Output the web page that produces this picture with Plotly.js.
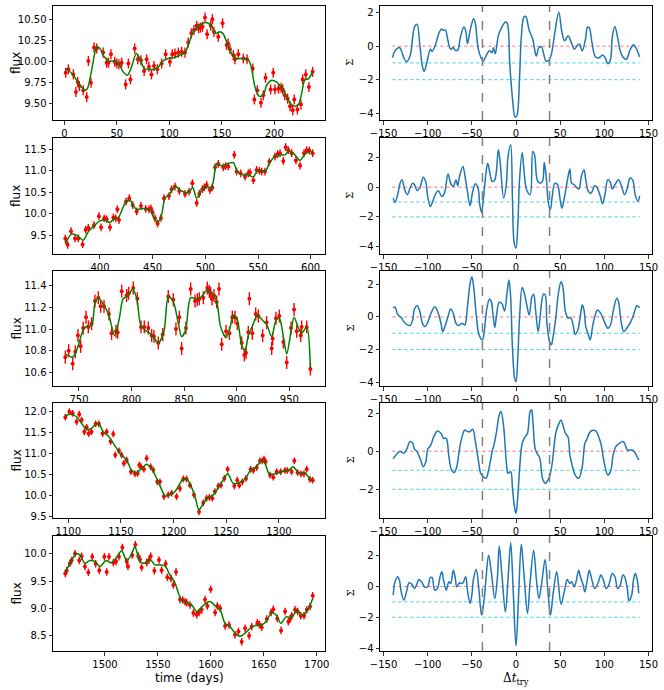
<!DOCTYPE html>
<html>
<head>
<meta charset="utf-8">
<script src="https://cdn.plot.ly/plotly-3.0.1.min.js"></script>
<style>
  html, body { margin: 0; padding: 0; background: #fff; }
  #chart { width: 664px; height: 690px; }
</style>
</head>
<body>
<div id="chart"></div>
<script>
// light curves: time (days), flux, flux error, and the smooth model
const t1 = [1.3,3.8,8.6,11,12.7,14.3,18,21.3,22.9,25.4,28.3,30.8,37,40.3,42,44.4,48,50,52,54.6,58.4,61,63,67,70,73,76,78.4,80.6,83,85.4,88.6,92.7,96.5,100.6,102.8,105.4,108.6,111.7,114.9,118,121,123.5,126,128,129.8,131.7,134,136,139.4,141,142.5,146.6,150.7,154.6,156,157.8,161,162.5,165.7,170.5,174,179.4,181,183.8,187.3,189.5,191.7,196.5,199,200.6,204,206.5,208,210,212.7,215,217.5,219,222,225.4,227,230,233,236.5];
const f1 = [9.87,9.91,9.85,9.64,9.76,9.71,9.66,9.58,10.01,9.75,10.17,10.16,10.11,9.99,9.99,10.09,10.0,9.98,9.97,9.99,9.73,9.98,9.79,10.16,10.03,10.02,9.89,10.03,9.94,9.85,9.95,9.91,9.98,10.09,10.0,10.09,10.10,10.11,10.12,10.11,10.23,10.34,10.38,10.43,10.40,10.41,10.42,10.53,10.33,10.43,10.51,10.36,10.30,10.46,10.20,10.22,10.15,10.08,10.03,10.09,10.04,10.03,9.92,9.55,9.66,9.51,9.60,9.81,9.67,9.87,9.67,9.68,9.69,9.67,9.60,9.56,9.47,9.42,9.55,9.43,9.49,9.79,9.85,9.70,9.88];
const e1 = 0.06;
const mt1 = [1.3,8,15,20,22,26,31,34,37,42,47,51.5,56,60,64,68.5,72,76,80,85,89.5,94,99,104,110,115,118,123,129,135.5,140,144,148,151,154.6,159.3,164,169,175,178,181.6,185.7,189.5,192.7,197.5,202,207,211,215.5,219.7,223,226,229,232.7,236.5];
const mf1 = [9.92,9.85,9.72,9.66,9.68,9.90,10.18,10.16,10.08,10.01,10.01,9.98,9.88,9.84,9.94,10.10,10.04,9.92,9.91,9.91,9.94,10.01,10.04,10.05,10.08,10.11,10.20,10.36,10.44,10.47,10.43,10.34,10.36,10.34,10.24,10.10,10.04,10.04,10.03,9.94,9.70,9.59,9.60,9.72,9.78,9.76,9.69,9.60,9.50,9.47,9.49,9.62,9.78,9.80,9.88];

const t2 = [367.1,369.3,372.5,376.3,379.4,383.5,386.4,388.9,394.3,399,401,404,406.3,409.5,412.7,414.9,416.5,418,424.7,427.8,431,434.8,438.9,443.4,446.5,448.4,450,452.2,454.7,457.9,460.8,465.5,468,471.2,475.3,480.7,484.5,487.7,491.8,494.3,497.2,499,501.3,504.4,506.6,509.2,512.3,517.1,519.3,521.8,527.5,529.7,533.5,537.7,540.8,542.4,545.6,548.7,551.3,553.5,556.6,560.8,566.1,568.7,570.9,574,576.3,578.8,582,586,589.9,593.7,596.2,598.7,601.9];
const f2 = [9.42,9.27,9.59,9.42,9.42,9.28,9.62,9.67,9.73,9.94,9.68,9.89,9.87,9.68,9.91,9.89,10.10,9.85,10.28,10.36,10.20,10.05,10.18,10.11,10.10,10.12,10.02,9.89,9.77,9.90,10.36,10.41,10.57,10.63,10.53,10.46,10.51,10.71,10.25,10.46,10.57,10.61,10.67,10.55,10.61,11.08,11.16,11.08,11.11,11.10,11.37,10.98,10.94,10.86,10.94,10.96,10.78,11.02,11.00,10.98,10.98,11.21,11.33,11.39,11.41,11.23,11.55,11.48,11.41,11.24,11.12,11.41,11.48,11.47,11.41];
const e2 = 0.09;
const mt2 = [367,373,379,384,389,395,400,405,409.5,412.7,417.4,424.7,428.5,431.6,434.8,441,447.5,452,455.4,458.5,461.7,466.5,471.2,476,480.7,484.8,488,491.8,496.5,501.3,505,507.6,510.8,515.5,521.8,526.6,530.4,536,540.8,545.6,550.3,556.6,560.8,566.1,570.9,575.6,578.8,583.5,589.9,594.6,599.4,601.9];
const mf2 = [9.29,9.52,9.48,9.38,9.58,9.73,9.83,9.85,9.79,9.87,9.91,10.28,10.32,10.18,10.10,10.12,10.08,9.86,9.81,9.97,10.36,10.47,10.64,10.55,10.49,10.51,10.61,10.36,10.55,10.64,10.57,10.75,11.17,11.11,11.17,11.19,10.98,10.90,10.90,10.86,11.02,10.98,11.17,11.34,11.37,11.37,11.45,11.41,11.24,11.39,11.45,11.42];

const t3 = [737,740.2,744,746.5,749,751.6,754,756.7,758.9,762,765.2,768.4,770.6,773.8,778.5,781,785.2,786.8,790.6,795.3,797.2,801.6,805.5,809,812.1,815.9,819.1,821.3,825.4,829.6,834.9,839.7,842.2,845.4,847.6,851.7,856.2,860.3,862.5,864.4,868.2,872,873.9,875.2,876.5,878.4,880.9,883.1,885.7,889.8,893,895.8,898.3,900.6,904.7,907.2,908.8,911,912,914.8,918,920.5,924.6,928.4,933.2,934.1,937.3,940.5,944.3,947.5,951.6,954.5,957,960.8,961.7,966.5,970];
const f3 = [10.74,10.80,10.68,10.79,10.94,10.84,11.01,11.11,11.02,11.05,11.26,11.29,11.21,11.21,11.14,10.96,10.98,10.97,11.35,11.31,11.33,11.38,11.28,11.02,11.02,11.01,10.94,10.93,10.87,10.95,11.30,11.27,11.00,11.11,10.82,11.01,11.37,11.26,11.27,11.28,11.29,11.38,11.35,11.33,11.28,11.31,11.25,11.37,10.86,10.98,10.96,11.11,11.11,11.05,10.87,10.76,10.78,10.97,11.28,10.96,11.14,11.12,10.94,11.06,10.82,10.91,11.10,11.12,10.88,10.69,11.01,11.18,10.98,10.94,11.02,11.02,10.63];
const e3 = 0.06;
const mt3 = [737,744,748.4,754,758,762,765.2,768.4,773,778,784,788.4,792,797,801,805,808.6,812.8,817.5,821.3,825.4,830.8,835,839.7,844.5,847.6,851.4,856.2,862,866.6,872,877.7,880.9,884.7,889.8,893,896.8,900.6,904.7,907.8,911,915.8,919.6,923.7,928.4,933.2,937.3,940.5,944.3,947.5,951.6,954.5,958.6,961.7,966.5,970];
const mf3 = [10.77,10.74,10.82,10.99,11.03,11.03,11.24,11.29,11.23,11.14,10.94,11.10,11.28,11.31,11.37,11.28,11.04,10.99,10.96,10.92,10.87,10.98,11.30,11.25,11.05,10.93,10.99,11.29,11.28,11.30,11.36,11.31,11.26,11.02,10.92,10.99,11.13,11.08,10.85,10.80,10.94,11.05,11.13,11.09,11.04,10.93,11.08,11.10,10.93,10.77,10.98,11.11,11.01,10.96,11.02,10.64];

const t4 = [1097.2,1101,1104.1,1107.9,1110.4,1112.7,1115.2,1117.4,1119.3,1122,1126,1129,1132.6,1136.4,1140.2,1142.7,1144.6,1148.1,1150.6,1152.8,1155.4,1159.5,1163.3,1165.8,1167.4,1169,1171.8,1174.4,1178.2,1180.7,1184.5,1187,1190.8,1194.9,1198.1,1202.8,1206,1209.2,1212.3,1215.5,1219.3,1224.1,1228.2,1231.3,1233.9,1236.7,1239.2,1242.4,1244.9,1248.1,1251.3,1257.6,1260.4,1262.3,1265.2,1268.7,1273.1,1275.6,1278.8,1282,1284.2,1285.8,1287.3,1291.5,1294.6,1297.8,1301.6,1305.7,1307.9,1312,1314.6,1317.7,1320.9,1323.7,1326.3,1329.4,1332];
const f4 = [11.87,12.00,11.96,11.76,11.94,11.80,11.52,11.63,11.48,11.52,11.71,11.71,11.48,11.52,11.29,11.47,10.97,11.07,10.97,10.77,10.85,10.57,10.52,10.53,10.73,10.69,10.63,10.89,10.69,10.61,10.33,10.33,9.98,10.02,10.06,9.98,10.17,10.40,10.40,10.25,10.02,9.62,9.83,9.94,9.96,9.94,10.10,10.23,10.25,10.41,10.63,10.23,10.37,10.25,10.33,10.41,10.63,10.60,10.67,10.83,10.83,10.87,10.81,10.49,10.44,10.57,10.57,10.60,10.60,10.57,10.83,10.55,10.52,10.52,10.63,10.39,10.37];
const e4 = 0.08;
const mt4 = [1097,1101.6,1108,1112.7,1117.4,1122,1126.9,1130,1133.2,1138,1142.7,1149,1155.4,1160,1164.9,1169.6,1174.4,1179,1183.9,1188.6,1191.8,1196.5,1201.3,1206,1209.2,1212.3,1215.5,1220.3,1224.1,1228.2,1232.9,1237.7,1242.4,1247.1,1251.3,1256.6,1262.3,1267.7,1273.1,1278.8,1283.5,1286.7,1290.8,1296.2,1302.5,1308.9,1313.6,1318.4,1324.7,1329.4,1332];
const mf4 = [11.90,11.94,11.88,11.72,11.58,11.60,11.72,11.68,11.52,11.42,11.25,11.01,10.85,10.61,10.55,10.65,10.75,10.65,10.41,10.15,9.99,10.02,10.10,10.29,10.41,10.40,10.29,9.98,9.66,9.82,9.96,10.02,10.20,10.37,10.53,10.29,10.31,10.39,10.61,10.69,10.85,10.77,10.52,10.52,10.57,10.60,10.69,10.55,10.55,10.39,10.37];

const t5 = [1462.5,1463.8,1466.9,1468.5,1471.7,1475.7,1477.9,1481.1,1484.3,1488,1491.2,1494.6,1499.4,1501.6,1503.8,1507.9,1510.4,1513.2,1516.4,1520.5,1521.7,1525.8,1528.7,1531.5,1533.1,1534.6,1539.4,1541.6,1543.1,1546.6,1551,1553.5,1557.3,1558.9,1562.4,1564.6,1567.1,1570.9,1573.4,1575.6,1577.2,1580.3,1583.5,1586.6,1588.8,1591.3,1594.5,1596.7,1599.8,1604,1606.1,1608.7,1613.4,1617.2,1622.8,1626,1629.1,1632.3,1636.1,1638.6,1643.9,1645.8,1648,1652.8,1656.9,1659,1662.8,1666.3,1670.1,1673.2,1674.8,1676.4,1679.5,1682,1684.9,1688,1690.6,1693.7,1696.2];
const f5 = [9.64,9.69,9.83,9.88,10.01,9.88,9.96,9.77,9.66,9.95,9.82,9.70,9.95,9.67,9.95,9.84,9.86,9.95,10.12,9.86,9.77,9.98,10.17,9.96,9.90,9.75,9.84,9.89,9.96,9.69,9.89,9.70,9.82,9.57,9.55,9.43,9.67,9.16,9.15,9.12,9.10,9.06,8.91,8.88,8.92,8.97,9.16,9.04,9.35,8.92,9.04,9.00,8.67,8.69,8.51,8.57,8.38,8.63,8.49,8.66,8.73,8.70,8.65,8.80,8.92,8.98,8.81,8.59,8.94,8.75,8.80,8.86,8.97,8.94,8.86,8.86,8.97,9.03,9.23];
const e5 = 0.07;
const mt5 = [1462.5,1467,1472.6,1476.4,1481,1485.8,1490.6,1495.3,1501,1505.7,1511,1515.7,1520.5,1525.2,1528.3,1533,1537.8,1542.5,1547.2,1552,1556.7,1561.4,1566.1,1569.3,1572.4,1577.2,1581.9,1586.6,1591.3,1596,1599.8,1604,1608.7,1613.4,1618.1,1622.8,1627.6,1632.3,1637,1643.3,1648,1652.8,1657.5,1662.2,1666,1671,1676.4,1681.1,1685.8,1690.6,1696.2];
const mf5 = [9.66,9.83,10.0,9.98,9.83,9.88,9.86,9.77,9.88,9.84,9.94,10.06,9.88,10.0,10.14,9.86,9.83,9.90,9.80,9.80,9.78,9.61,9.47,9.28,9.15,9.10,9.06,8.94,9.02,9.10,9.12,9.04,8.97,8.72,8.66,8.54,8.48,8.54,8.63,8.69,8.69,8.77,8.92,8.86,8.72,8.84,8.83,8.96,8.88,8.94,9.18];

// Sigma vs trial lag
const lag1 = [-140,-137,-132,-130,-127,-124,-120,-117,-115,-112,-109,-106,-104,-101,-97,-95,-91,-87,-84,-82,-80,-77,-74,-71,-69,-66,-63,-59,-57,-55,-52,-48,-46,-43,-40,-37,-34,-30,-27,-25.5,-23.5,-20,-17,-12,-10,-7,-4,-1,1,4,6,9,11,15,19,21,23,26,29,31,34,37,40,44,48.5,52,55,59,63,66,70,72,75,79,81,83,86,90,94,98,101,104,107,109,112,115,118,121,125,129,133,136,140];
const sig1 = [-0.69,-0.28,-0.08,-0.24,-0.69,-0.93,-0.59,0.53,1.14,1.30,0.12,-1.20,-1.50,-0.99,-0.18,-0.32,0.12,0.83,1.03,0.93,0.97,0.32,-0.18,-0.08,-0.24,-0.24,0.53,1.14,0.93,0.16,0.93,1.64,1.34,-0.08,-0.65,-0.89,-0.59,-0.28,-0.39,-0.08,-0.45,0.63,1.03,1.44,1.38,-1.10,-3.12,-4.24,-4.14,-1.91,0.53,1.74,1.78,0.93,0.43,-0.18,-0.59,-0.08,-0.04,-0.39,-0.89,-0.85,-0.49,0.83,2.03,0.83,0.32,0.63,0.16,-0.18,0.08,0.12,-0.28,0.53,1.14,1.10,0.22,-0.65,-0.69,-0.53,-0.69,-1.05,-0.79,0.53,1.18,0.53,-0.28,-0.65,-0.79,-0.24,0.08,-0.12,-0.65];

const lag2 = [-139,-137,-134,-131,-129,-126,-123,-120,-117,-115,-112,-109,-105,-102,-100,-97,-95,-91,-88,-84,-81,-77,-74,-71,-68,-66,-64,-60,-58,-55,-52,-49,-46,-43,-41,-39,-37,-34,-32,-29,-27,-24,-20,-18,-14,-11,-9,-6,-4,-2,0,2,4,7,9,12,16,19,21,24,27,30,32,34,37,39,41,44,47,50,52,55,58,61,63,66,71,74,77,79,82,85,89,91,95,98,101,104,107,109,112,116,119,123,126,129,132,135,138,140];
const sig2 = [-0.74,-1.03,-0.51,0.31,0.49,-0.18,-0.51,-0.07,0.27,0.16,-0.22,-0.07,0.67,0.31,-0.63,-1.30,-1.07,-0.45,-0.25,-0.63,-0.40,0.89,0.27,0.04,0.49,0.09,0.72,1.39,0.83,-0.29,-1.25,-0.29,0.22,-0.07,-1.19,-1.70,-0.85,0.94,1.61,0.76,0.38,0.49,2.51,1.72,-0.74,0.16,2.06,2.84,-0.85,-3.76,-4.09,-2.64,0.49,2.33,1.16,-0.18,-0.51,2.39,2.17,0.49,0.27,0.38,1.66,0.83,-1.19,-1.48,-0.63,0.27,0.16,-0.85,-1.41,-0.63,0.38,1.21,0.27,0.16,-0.13,0.72,1.16,0.49,-0.29,-0.40,0.09,0.04,-0.51,-1.12,-0.40,0.49,0.31,-0.13,0.16,0.49,0.16,-0.51,-0.07,0.60,0.49,-0.51,-0.96,-0.58];

const lag3 = [-139,-137,-134,-130,-127,-123,-120,-117,-115,-112,-109,-106,-103,-100,-97,-92,-89,-85,-83,-80,-77,-74,-71,-68,-65,-61,-58,-55,-52,-50,-48,-45,-42,-38,-36,-33,-30,-28,-26,-24,-22,-19,-16,-13,-10,-8,-6,-4,-1.5,0,2,4,7,9,12,15,18,20,22,25,27,31,33,35,38,40,42,45,48,51,53,56,59,62,65,67,70,73,75,77,79,82,84,87,90,92,96,100,104,107,110,114,116,119,122,126,130,133,137,140];
const sig3 = [0.53,0.61,0.16,-0.04,-0.29,-0.49,-0.53,-0.18,0.49,0.69,0.37,-0.39,-0.59,-0.33,0.12,0.63,0.37,-0.39,-0.90,-0.49,0.02,0.49,0.22,-0.39,-0.53,-0.39,-0.49,0.63,2.06,2.47,1.86,0.12,-1.06,-1.41,-0.90,0.53,1.10,0.94,0.12,-0.65,0.12,0.90,0.82,0.37,1.55,2.27,1.14,-1.92,-3.76,-3.96,-2.53,-0.08,1.80,1.55,0.78,0.12,1.24,1.39,0.53,-0.90,-0.18,1.39,1.35,-0.39,-1.51,-1.71,-1.20,-0.08,1.45,2.16,1.86,0.33,-0.08,-0.04,-0.59,-1.06,-0.80,0.12,0.73,0.43,-0.59,-1.10,-1.41,-0.49,0.16,0.43,0.22,-0.29,-0.69,-0.49,0.33,1.14,0.94,-0.29,-0.90,-0.65,-0.29,0.12,0.69,0.57];

const lag4 = [-139,-136,-132,-130,-127,-124,-120,-117,-115,-112,-108,-105,-102,-100,-97,-93,-89,-85,-82,-79,-76,-73,-70,-67,-65,-62,-58,-55,-52,-49,-46,-43,-40,-38,-34,-31,-27,-25,-22,-19,-17,-14,-11,-9,-6,-4,-1.5,0,2,4,7,10,13,16,17.6,19,22,25,27,30,33,35,38,41,45,48,51,53,56,59,61,64,67,71,75,78,80,83,86,90,92,96,100,104,107,110,113,117,121,123,126,129,133,136,139];
const sig4 = [-0.40,-0.19,-0.02,-0.02,-0.11,0.07,0.51,0.42,0.11,-0.02,-0.46,-0.81,-0.54,0.11,0.28,0.77,1.07,0.95,0.68,0.68,-0.28,-0.98,-1.12,-0.81,-0.19,0.60,1.12,1.04,1.04,1.16,0.51,-0.37,-1.16,-1.30,-1.42,-0.98,-0.02,0.33,1.04,1.91,2.09,1.30,-0.54,-1.16,-1.07,-1.95,-3.00,-3.26,-2.39,-0.98,0.42,0.74,0.95,2.09,2.18,1.65,0.07,-0.19,-0.37,-1.42,-1.68,-1.60,-1.33,-0.63,0.95,1.39,1.65,1.39,0.95,0.74,-0.19,-0.81,-1.25,-1.42,-0.81,0.42,0.60,0.95,1.09,1.09,0.95,0.42,-0.63,-1.25,-1.07,-0.19,0.25,0.42,0.51,0.42,0.07,0.07,0.04,-0.19,-0.46];

const lag5 = [-139,-137,-134,-132,-130,-127,-124,-121,-118,-115,-112,-110,-107,-103,-100,-97,-95,-92,-89,-86,-84,-82,-79,-76,-74,-71,-69,-67,-64,-62,-60,-57,-55,-52,-50,-48,-45,-42,-39,-36,-34,-31,-28,-24,-21,-19,-16,-12,-9,-6,-3,0,3,6,9,13,16,20,23,26,29,33,36,39,42,46,48,51,55,58,61,63,66,68,71,73,76,78,81,83,86,89,91,94,96,99,102,105,109,112,115,118,121,123,126,128,131,133,135,137,139];
const sig5 = [-0.56,0.30,0.63,0.41,-0.35,-0.89,-0.35,0.24,0.15,-0.13,0.19,0.45,0.30,-0.06,-0.02,0.58,0.58,-0.24,-0.13,0.63,0.95,0.41,-0.24,0.30,0.19,1.06,0.63,-0.02,0.24,0.19,0.24,0.63,-0.24,-1.10,-0.56,0.52,1.10,-0.20,-1.86,-0.80,0.50,2.03,0.95,-0.78,0.63,2.62,0.80,-1.65,0.50,2.84,-0.50,-3.87,-0.50,2.75,0.80,-1.75,0.30,2.36,0.50,-0.78,0.20,1.75,-0.20,-1.86,-0.50,0.95,0.19,-1.15,-0.24,0.45,0.19,0.30,-0.02,0.30,1.06,0.63,0.09,-0.35,0.52,1.06,0.41,-0.13,-0.02,0.41,0.74,0.41,-0.13,0.09,0.84,0.63,-0.13,0.09,0.74,0.63,-0.13,-0.93,-0.56,0.41,0.84,0.52,-0.45];

const refLevels = [0, -1, -2];
const refColors = ['rgba(255,60,60,0.75)', 'rgba(0,200,210,0.8)', 'rgba(0,200,210,0.8)'];
const lagSpan = [-140, 140];
const lagBounds = [-38, 38];

const rows = [
  {t: t1, f: f1, e: e1, mt: mt1, mf: mf1, lag: lag1, sig: sig1},
  {t: t2, f: f2, e: e2, mt: mt2, mf: mf2, lag: lag2, sig: sig2},
  {t: t3, f: f3, e: e3, mt: mt3, mf: mf3, lag: lag3, sig: sig3},
  {t: t4, f: f4, e: e4, mt: mt4, mf: mf4, lag: lag4, sig: sig4},
  {t: t5, f: f5, e: e5, mt: mt5, mf: mf5, lag: lag5, sig: sig5}
];

// panel frames in pixels (top, bottom) and axis ranges
const W = 664, H = 690;
const rowPx = [[6,120],[138,254],[271,386],[403,518],[536,651]];
const leftX = [[-10.8,248.3],[355.4,613.6],[725.3,983.9],[1085.5,1343.7],[1450.9,1707.8]];
const leftY = [[9.305,10.667],[9.057,11.764],[10.474,11.536],[9.469,12.207],[8.21,10.332]];
const leftDy = [0.25, 0.5, 0.2, 0.5, 0.5];
const leftFmt = ['.2f', '.1f', '.1f', '.1f', '.1f'];
const rightY = [[-4.41,2.40],[-4.49,3.30],[-4.23,2.815],[-3.51,2.54],[-4.195,3.28]];
const xL = [53/W, 325/W], xR = [380/W, 652/W];

const tickFont = {family: 'DejaVu Sans', size: 10, color: '#000'};
function axisBase() {
  return {
    showgrid: false, zeroline: false, showline: true, mirror: true,
    linecolor: '#000', linewidth: 1, ticks: 'outside', ticklen: 3.5,
    tickwidth: 0.8, tickcolor: '#000', tickfont: tickFont
  };
}

let data = [];
let layout = {
  width: W, height: H, showlegend: false,
  margin: {l: 0, r: 0, t: 0, b: 0},
  paper_bgcolor: '#fff', plot_bgcolor: '#fff',
  shapes: [], annotations: []
};

rows.forEach((r, i) => {
  const a = 2 * i + 1, b = 2 * i + 2;
  const yd = [1 - rowPx[i][1] / H, 1 - rowPx[i][0] / H];

  data.push({
    x: r.t, y: r.f, xaxis: 'x' + a, yaxis: 'y' + a,
    type: 'scatter', mode: 'markers',
    marker: {color: 'red', size: 4},
    error_y: {type: 'constant', value: r.e, color: 'red', thickness: 1.4, width: 0}
  });
  data.push({
    x: r.mt, y: r.mf, xaxis: 'x' + a, yaxis: 'y' + a,
    type: 'scatter', mode: 'lines',
    line: {color: 'green', width: 1.5, shape: 'spline', smoothing: 0.8}
  });

  refLevels.forEach((lv, k) => {
    data.push({
      x: lagSpan, y: [lv, lv], xaxis: 'x' + b, yaxis: 'y' + b,
      type: 'scatter', mode: 'lines', hoverinfo: 'skip',
      line: {color: refColors[k], width: 1, dash: 'dot'}
    });
  });
  data.push({
    x: r.lag, y: r.sig, xaxis: 'x' + b, yaxis: 'y' + b,
    type: 'scatter', mode: 'lines',
    line: {color: '#1f77b4', width: 1.5, shape: 'spline', smoothing: 1}
  });

  lagBounds.forEach(lb => {
    layout.shapes.push({
      type: 'line', xref: 'x' + b, yref: 'y' + b + ' domain',
      x0: lb, x1: lb, y0: 0, y1: 1,
      line: {color: 'gray', width: 1.5, dash: 'dash'}
    });
  });

  layout['xaxis' + a] = Object.assign(axisBase(), {domain: xL, anchor: 'y' + a, range: leftX[i], dtick: 50, tick0: 0});
  layout['yaxis' + a] = Object.assign(axisBase(), {domain: yd, anchor: 'x' + a, range: leftY[i], dtick: leftDy[i], tick0: 0, tickformat: leftFmt[i]});
  layout['xaxis' + b] = Object.assign(axisBase(), {domain: xR, anchor: 'y' + b, range: [-154, 154], dtick: 50, tick0: 0});
  layout['yaxis' + b] = Object.assign(axisBase(), {domain: yd, anchor: 'x' + b, range: rightY[i], dtick: 2, tick0: 0});

  const yc = (yd[0] + yd[1]) / 2;
  layout.annotations.push({
    text: 'flux', xref: 'paper', yref: 'paper', x: 16 / W, y: yc,
    textangle: -90, showarrow: false, xanchor: 'center', yanchor: 'middle',
    font: {family: 'DejaVu Sans', size: 12, color: '#000'}
  });
  layout.annotations.push({
    text: 'Σ', xref: 'paper', yref: 'paper', x: 350 / W, y: yc,
    textangle: -90, showarrow: false, xanchor: 'center', yanchor: 'middle',
    font: {family: 'DejaVu Serif', size: 10, color: '#000'}
  });
});

layout.annotations.push({
  text: 'time (days)', xref: 'paper', yref: 'paper', x: 189 / W, y: 1 - 678 / H,
  showarrow: false, xanchor: 'center', yanchor: 'middle',
  font: {family: 'DejaVu Sans', size: 12, color: '#000'}
});
layout.annotations.push({
  text: 'Δ<i>t</i><sub>try</sub>', xref: 'paper', yref: 'paper', x: 516 / W, y: 1 - 679 / H,
  showarrow: false, xanchor: 'center', yanchor: 'middle',
  font: {family: 'DejaVu Serif', size: 12, color: '#000'}
});

Plotly.newPlot('chart', data, layout, {displayModeBar: false, staticPlot: true});
</script>
</body>
</html>
